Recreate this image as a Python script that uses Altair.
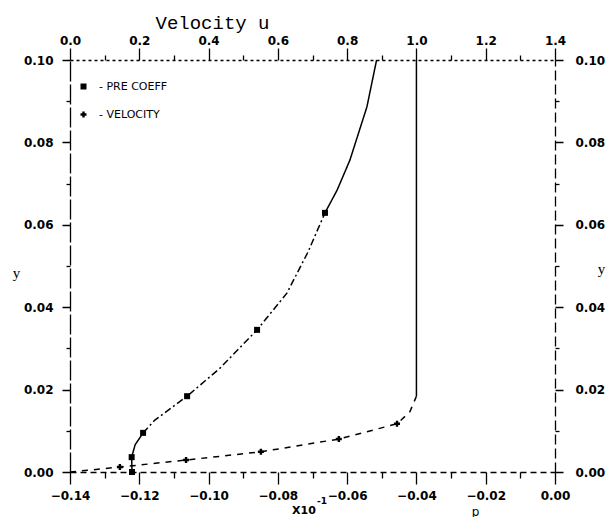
import altair as alt
import pandas as pd

# ---------------- data ----------------
# Pressure coefficient profile (p, y) - line through the curve
pre_p = [-0.1221, -0.1222, -0.1212, -0.1189, -0.1155, -0.1062, -0.0967, -0.0860,
         -0.0774, -0.0713, -0.0664, -0.0629, -0.0592, -0.0543, -0.0515]
pre_y = [0.0, 0.0036, 0.0066, 0.0095, 0.0126, 0.0184, 0.0252, 0.0345,
         0.0434, 0.0534, 0.0629, 0.0684, 0.0757, 0.0886, 0.1000]
# Pressure coefficient markers
pre_mark_p = [-0.1221, -0.1222, -0.1189, -0.1062, -0.0860, -0.0664]
pre_mark_y = [0.0, 0.0036, 0.0095, 0.0184, 0.0345, 0.0629]

# Velocity profile (u, y)
vel_u = [0.0, 0.144, 0.335, 0.551, 0.776, 0.944, 0.981, 1.0, 1.0]
vel_y = [0.0, 0.0012, 0.0029, 0.0049, 0.0080, 0.0117, 0.0146, 0.0184, 0.1000]
# Velocity markers
vel_mark_u = [0.144, 0.335, 0.551, 0.776, 0.944]
vel_mark_y = [0.0012, 0.0029, 0.0049, 0.0080, 0.0117]

series_names = ["PRE COEFF", "VELOCITY"]

# tick values
p_ticks = [-0.14, -0.13, -0.12, -0.11, -0.10, -0.09, -0.08, -0.07,
           -0.06, -0.05, -0.04, -0.03, -0.02, -0.01, 0.0]
u_ticks = [0.0, 0.1, 0.2, 0.3, 0.4, 0.5, 0.6, 0.7, 0.8, 0.9, 1.0, 1.1, 1.2, 1.3, 1.4]
y_ticks = [0.0, 0.01, 0.02, 0.03, 0.04, 0.05, 0.06, 0.07, 0.08, 0.09, 0.10]

# ---------------- line segment styling (index ranges) ----------------
PRE_SEGMENTS = [("pre_solid_lo", 0, 3), ("pre_dashdot", 3, 10), ("pre_solid_hi", 10, 14)]
VEL_SEGMENTS = [("vel_dash", 0, 7), ("vel_solid", 7, 8)]


def build_segments(xs, ys, segs, xname):
    rows = []
    for name, a, b in segs:
        for i in range(a, b + 1):
            rows.append({xname: xs[i], "y": ys[i], "seg": name, "i": i})
    return pd.DataFrame(rows)


pre_line_df = build_segments(pre_p, pre_y, PRE_SEGMENTS, "p")
vel_line_df = build_segments(vel_u, vel_y, VEL_SEGMENTS, "u")
pre_pts_df = pd.DataFrame({"p": pre_mark_p, "y": pre_mark_y, "series": series_names[0]})
vel_pts_df = pd.DataFrame({"u": vel_mark_u, "y": vel_mark_y, "series": series_names[1]})

FONT = "DejaVu Sans"
P_DOM = [-0.14, 0.0]
U_DOM = [0.0, 1.4]
Y_DOM = [0.0, 0.1]

common_axis = dict(
    labelFont=FONT, labelFontSize=12, labelFontWeight="bold", labelColor="black",
    tickColor="black", domainColor="black", tickWidth=1.3, domainWidth=1.3,
    labelOverlap=False, labelFlush=False, labelBound=False, grid=False,
    titleColor="black", titleFontWeight="normal", titleAngle=0,
)

shape_scale = alt.Scale(domain=series_names, range=["square", "cross"])
legend = alt.Legend(
    orient="none", legendX=8, legendY=21, title=None,
    labelExpr="'- ' + datum.label", labelFont=FONT, labelFontSize=11,
    labelColor="black", symbolFillColor="black", symbolStrokeColor="black",
    symbolSize=36, labelOffset=10, rowPadding=15, padding=0,
)

# ---------------- pressure layers (bottom / left axes) ----------------
x_p_axis = alt.Axis(
    orient="bottom", values=p_ticks, tickSize=12,
    tickDash={"condition": {"test": "abs(round(datum.value*100)) % 2 == 1", "value": [6, 30]},
              "value": [1, 0]},
    labelExpr="abs(round(datum.value*100)) % 2 == 0 ? format(datum.value, '.2f') : ''",
    labelPadding=6, domainDash=[6, 4],
    title="p", titleFont=FONT, titleFontSize=12, titleX=405, titleY=43,
    titleAlign="center", titleBaseline="alphabetic",
    **common_axis,
)
y_left_axis = alt.Axis(
    orient="left", values=y_ticks, tickSize=8,
    tickDash={"condition": {"test": "abs(round(datum.value*100)) % 2 == 1", "value": [4, 30]},
              "value": [1, 0]},
    labelExpr="abs(round(datum.value*100)) % 2 == 0 ? format(datum.value, '.2f') : ''",
    labelPadding=9, domainDash=[20, 3],
    title="y", titleFont="Liberation Serif", titleFontSize=15, titleX=-54, titleY=212,
    titleAlign="center", titleBaseline="middle",
    **common_axis,
)

dash_pre = alt.Scale(domain=["pre_solid_lo", "pre_dashdot", "pre_solid_hi"],
                     range=[[1, 0], [7, 3, 2, 3], [1, 0]])
dash_vel = alt.Scale(domain=["vel_dash", "vel_solid"], range=[[6, 6], [1, 0]])

pre_line = alt.Chart(pre_line_df).mark_line(color="black", strokeWidth=1.5).encode(
    x=alt.X("p:Q", scale=alt.Scale(domain=P_DOM, nice=False, zero=False), axis=x_p_axis),
    y=alt.Y("y:Q", scale=alt.Scale(domain=Y_DOM, nice=False, zero=False), axis=y_left_axis),
    strokeDash=alt.StrokeDash("seg:N", scale=dash_pre, legend=None),
    order=alt.Order("i:Q"),
)
pre_pts = alt.Chart(pre_pts_df).mark_point(filled=True, color="black", size=36, opacity=1).encode(
    x=alt.X("p:Q", scale=alt.Scale(domain=P_DOM, nice=False, zero=False), axis=None),
    y=alt.Y("y:Q", scale=alt.Scale(domain=Y_DOM, nice=False, zero=False), axis=None),
    shape=alt.Shape("series:N", scale=shape_scale, legend=legend),
)

# ---------------- velocity layers (top / right axes) ----------------
x_u_axis = alt.Axis(
    orient="top", values=u_ticks, tickSize=12,
    tickDash={"condition": {"test": "round(datum.value*10) % 2 == 1", "value": [5, 30]},
              "value": [1, 0]},
    labelExpr="round(datum.value*10) % 2 == 0 ? format(datum.value, '.1f') : ''",
    labelPadding=1, domainDash=[3, 3],
    title="Velocity u", titleFont="Liberation Mono", titleFontSize=19,
    titleX=85, titleY=-32, titleAlign="left", titleBaseline="alphabetic",
    **common_axis,
)
y_right_axis = alt.Axis(
    orient="right", values=y_ticks, tickSize=8,
    tickDash={"condition": {"test": "abs(round(datum.value*100)) % 2 == 1", "value": [4, 30]},
              "value": [1, 0]},
    labelExpr="abs(round(datum.value*100)) % 2 == 0 ? format(datum.value, '.2f') : ''",
    labelPadding=12, domainDash=[10, 4],
    title="y", titleFont="Liberation Serif", titleFontSize=15, titleX=46, titleY=208,
    titleAlign="center", titleBaseline="middle",
    **common_axis,
)

vel_line = alt.Chart(vel_line_df).mark_line(color="black", strokeWidth=1.5).encode(
    x=alt.X("u:Q", scale=alt.Scale(domain=U_DOM, nice=False, zero=False), axis=x_u_axis),
    y=alt.Y("y:Q", scale=alt.Scale(domain=Y_DOM, nice=False, zero=False), axis=y_right_axis),
    strokeDash=alt.StrokeDash("seg:N", scale=dash_vel, legend=None),
    order=alt.Order("i:Q"),
)
vel_pts = alt.Chart(vel_pts_df).mark_point(filled=True, color="black", size=36, opacity=1).encode(
    x=alt.X("u:Q", scale=alt.Scale(domain=U_DOM, nice=False, zero=False), axis=None),
    y=alt.Y("y:Q", scale=alt.Scale(domain=Y_DOM, nice=False, zero=False), axis=None),
    shape=alt.Shape("series:N", scale=shape_scale, legend=legend),
)

# ---------------- "x10^-1" scale-factor annotation ----------------
xten = alt.Chart(pd.DataFrame({"t": ["X10"]})).mark_text(
    align="left", baseline="alphabetic", font=FONT, fontSize=11, fontWeight="bold", color="black"
).encode(text="t:N", x=alt.value(222), y=alt.value(454))
sup = alt.Chart(pd.DataFrame({"t": ["-1"]})).mark_text(
    align="left", baseline="alphabetic", font=FONT, fontSize=9, fontWeight="bold", color="black"
).encode(text="t:N", x=alt.value(247), y=alt.value(444))

chart = alt.layer(pre_line, pre_pts, vel_line, vel_pts, xten, sup).resolve_scale(
    x="independent", y="independent", strokeDash="independent"
).properties(
    width=485, height=412,
    autosize=alt.AutoSizeParams(type="none"),
    padding={"left": 62, "top": 52, "right": 52, "bottom": 45},
    background="white",
).configure_view(stroke=None)

chart.save("out.html", embed_options={"renderer": "svg", "actions": False})
